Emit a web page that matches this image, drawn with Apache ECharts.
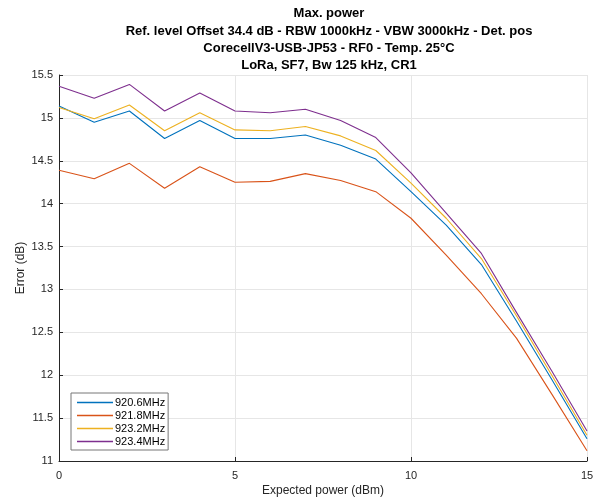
<!DOCTYPE html>
<html><head><meta charset="utf-8">
<script src="https://cdn.jsdelivr.net/npm/echarts@6/dist/echarts.min.js"></script>
<style>html,body{margin:0;padding:0;background:#fff}#c{width:597px;height:498px}</style>
</head><body><div id="c"></div>
<script>
const xValues = [0,1,2,3,4,5,6,7,8,9,10,11,12,13,14,15];
const s920_6 = [15.14,14.95,15.08,14.76,14.97,14.76,14.76,14.80,14.68,14.52,14.14,13.75,13.29,12.63,11.95,11.26];
const s921_8 = [14.39,14.29,14.47,14.18,14.43,14.25,14.26,14.35,14.27,14.14,13.83,13.40,12.95,12.43,11.78,11.12];
const s923_2 = [15.12,14.99,15.15,14.85,15.06,14.86,14.85,14.90,14.79,14.62,14.24,13.83,13.36,12.69,12.00,11.30];
const s923_4 = [15.37,15.23,15.39,15.08,15.29,15.08,15.06,15.10,14.97,14.77,14.36,13.89,13.42,12.73,12.05,11.35];
const seriesNames = ['920.6MHz','921.8MHz','923.2MHz','923.4MHz'];
const colors = ['#0072BD','#D95319','#EDB120','#7E2F8E'];
const titleLines = ['Max. power','Ref. level Offset 34.4 dB - RBW 1000kHz - VBW 3000kHz - Det. pos','CorecellV3-USB-JP53 - RF0 - Temp. 25°C','LoRa, SF7, Bw 125 kHz, CR1'];
const allSeries = [s920_6, s921_8, s923_2, s923_4];

const chart = echarts.init(document.getElementById('c'), null, {renderer:'canvas'});
const font = 'Liberation Sans, Arial, Helvetica, sans-serif';
chart.setOption({
  animation:false,
  textStyle:{fontFamily:font},
  title:{
    text: titleLines.join('\n'),
    left: 324, top: 0, textAlign:'center',
    textStyle:{fontSize:13, fontWeight:'bold', color:'#000', lineHeight:17.3, fontFamily:font}
  },
  grid:{left:59, right:10, top:75, bottom:37, containLabel:false, outerBoundsMode:'none'},
  legend:{
    orient:'vertical', left:71, top:393,
    backgroundColor:'#fff', borderColor:'#777', borderWidth:1,
    padding:[4,3,3,6], itemGap:2, itemWidth:36, itemHeight:1.5,
    icon:'rect',
    textStyle:{fontSize:11, color:'#000', fontFamily:font, padding:[0,0,0,-3]},
    data: seriesNames
  },
  xAxis:{
    type:'value', min:0, max:15, interval:5,
    name:'Expected power (dBm)', nameLocation:'middle', nameGap:24, nameMoveOverlap:false,
    nameTextStyle:{fontSize:12, color:'#262626'},
    axisLine:{show:true, lineStyle:{color:'#262626', width:1}},
    axisTick:{show:true, inside:true, length:4, lineStyle:{color:'#262626'}},
    axisLabel:{fontSize:11, color:'#262626', margin:9},
    splitLine:{show:true, lineStyle:{color:'#e6e6e6', width:1}}
  },
  yAxis:{
    type:'value', min:11, max:15.5, interval:0.5,
    name:'Error (dB)', nameLocation:'middle', nameGap:32, nameMoveOverlap:false,
    nameTextStyle:{fontSize:12, color:'#262626'},
    axisLine:{show:true, lineStyle:{color:'#262626', width:1}},
    axisTick:{show:true, inside:true, length:4, lineStyle:{color:'#262626'}},
    axisLabel:{fontSize:11, color:'#262626', margin:6},
    splitLine:{show:true, lineStyle:{color:'#e6e6e6', width:1}}
  },
  series: allSeries.map((arr,i)=>({
    name: seriesNames[i], type:'line', symbol:'none', showSymbol:false,
    data: xValues.map((x,j)=>[x, arr[j]]),
    lineStyle:{color:colors[i], width:1.1},
    itemStyle:{color:colors[i]},
    z: 2+i
  }))
});
</script></body></html>
